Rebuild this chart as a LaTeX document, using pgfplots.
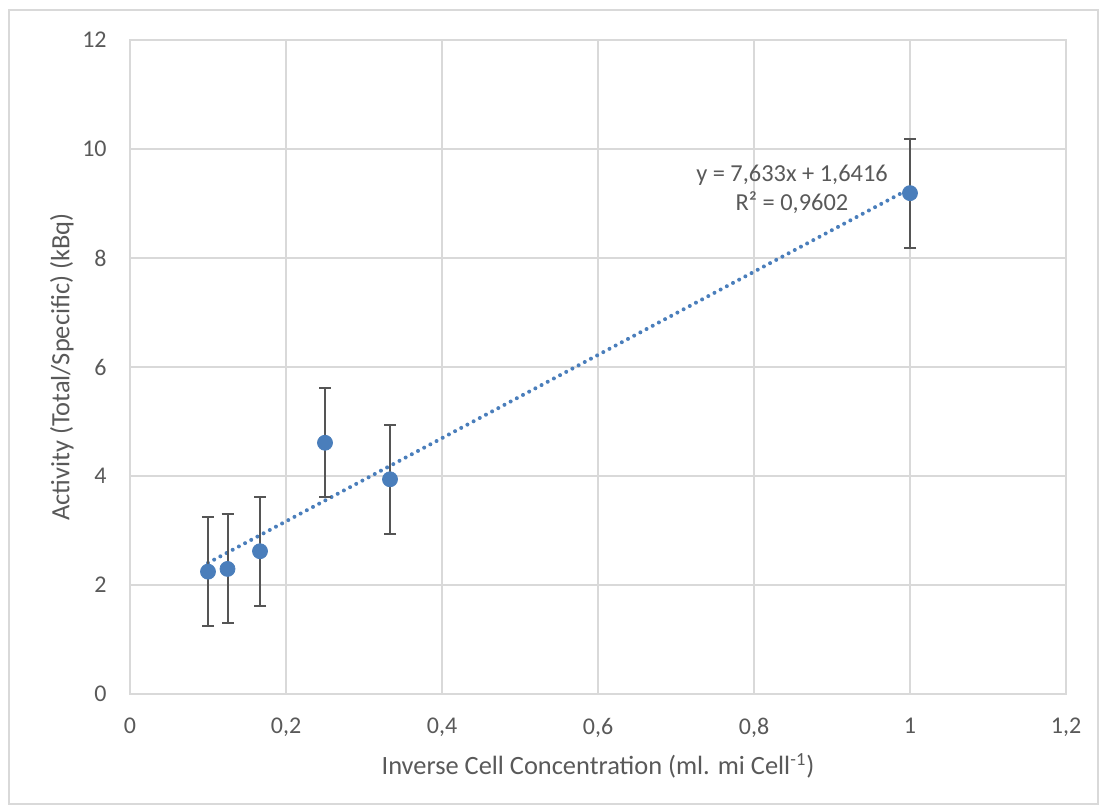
\documentclass[border=0pt]{standalone}
\usepackage{fontspec}
\setmainfont{Carlito}
\usepackage{pgfplots}
\pgfplotsset{compat=1.18}
\definecolor{gridcol}{HTML}{D9D9D9}
\definecolor{txtcol}{HTML}{595959}
\definecolor{ptcol}{HTML}{4A7EBB}
\definecolor{errcol}{HTML}{555555}
\begin{document}
\begin{tikzpicture}
\path[use as bounding box] (0,0) rectangle (549.5pt,402.5pt);
\draw[gridcol, line width=0.6pt] (4.5pt,0.5pt) rectangle (549pt,397.5pt);
\begin{axis}[
  at={(65pt,55.5pt)}, anchor=south west,
  scale only axis, width=468pt, height=327pt,
  xmin=0, xmax=1.2, ymin=0, ymax=12,
  xtick={0,0.2,0.4,0.6,0.8,1,1.2},
  ytick={0,2,4,6,8,10,12},
  grid=major,
  grid style={gridcol, line width=0.75pt},
  axis line style={gridcol, line width=0.75pt},
  major tick length=0pt,
  tick style={draw=none},
  /pgf/number format/.cd, use comma, fixed, assume math mode=true,
  /pgfplots/.cd,
  ticklabel style={font=\fontsize{12}{14}\selectfont, text=txtcol},
  xticklabel style={anchor=north, inner sep=0pt, yshift=-11.75pt},
  yticklabel style={anchor=east, inner sep=0pt, xshift=-11.5pt},
  xlabel={Inverse Cell Concentration (ml. mi Cell\textsuperscript{-1})},
  ylabel={Activity (Total/Specific) (kBq)},
  label style={font=\fontsize{13.2}{16}\selectfont, text=txtcol},
  xlabel style={at={(axis description cs:0.5,-0.110)}, anchor=center},
  ylabel style={at={(axis description cs:-0.0727,0.5)}, anchor=center},
  clip=false,
]
% trendline (Excel linear fit y = 7.633x + 1.6416), endpoints
\addplot[ptcol, line width=2pt, dash pattern=on 0pt off 3.5pt, line cap=round]
  coordinates {(0.1,2.4049) (1,9.2746)};
\addplot[only marks, mark=*, mark size=3.75pt, mark options={fill=ptcol, draw=ptcol},
  error bars/.cd, y dir=both, y explicit,
  error bar style={errcol, line width=1pt},
  error mark options={rotate=90, mark size=3pt, errcol, line width=1pt}]
  table[x=x, y=y, y error=e] {
x y e
0.1 2.245 1
0.125 2.295 1
0.166667 2.62 1
0.25 4.61 1
0.333333 3.94 1
1 9.19 1
};
\node[align=center, text=txtcol, font=\fontsize{12.2}{14.5}\selectfont] at (axis cs:0.8487,9.257)
  {y = 7,633x + 1,6416\\R² = 0,9602};
\end{axis}
\end{tikzpicture}
\end{document}
